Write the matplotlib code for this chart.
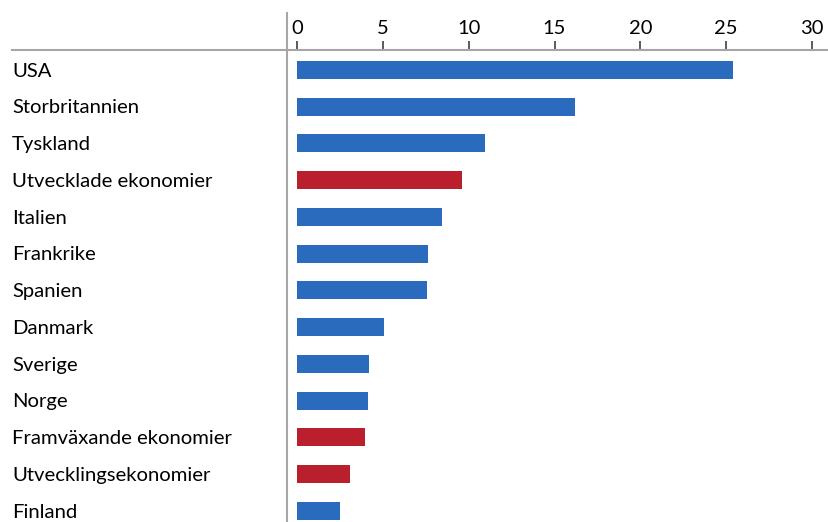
import matplotlib.pyplot as plt
from matplotlib.lines import Line2D
from matplotlib.transforms import blended_transform_factory

plt.rcParams['font.family'] = ['Lato', 'DejaVu Sans']

# data
lander = ["USA", "Storbritannien", "Tyskland", "Utvecklade ekonomier", "Italien",
          "Frankrike", "Spanien", "Danmark", "Sverige", "Norge",
          "Framväxande ekonomier", "Utvecklingsekonomier", "Finland"]
varden = [25.4, 16.2, 10.95, 9.6, 8.45, 7.63, 7.57, 5.07, 4.19, 4.13, 3.96, 3.09, 2.5]
grupp = [False, False, False, True, False, False, False, False, False, False, True, True, False]
xticks = [0, 5, 10, 15, 20, 25, 30]

BLA = '#2A6BBD'
ROD = '#BA1F2E'
GRA = '#A6A6A6'

W, H = 829, 522
fig = plt.figure(figsize=(W / 100, H / 100), dpi=100)
# axes: left at x=287px, right at 829, top at y=50, bottom at image edge
ax = fig.add_axes([287 / W, 0, (829 - 287) / W, (522 - 50) / H])

pos = list(range(len(lander)))
farger = [ROD if g else BLA for g in grupp]
ax.barh(pos, varden, height=0.49, color=farger, edgecolor='none')

ax.set_ylim(12.3, -0.544)
px = 30 / (812 - 297)
ax.set_xlim(-(297 - 287) * px, 30 + (829 - 812) * px)

ax.xaxis.tick_top()
ax.set_xticks(xticks)
ax.set_xticklabels([str(t) for t in xticks])
ax.tick_params(axis='x', direction='out', length=6.5, width=1.2, color='#404040',
               labelsize=14.5, pad=2.5, labelcolor='black')
ax.set_yticks([])
for s in ax.spines.values():
    s.set_visible(False)

# labels left aligned at figure x=12px
tr = blended_transform_factory(fig.transFigure, ax.transData)
for i, namn in enumerate(lander):
    ax.text(12 / W, i + 0.03, namn, transform=tr, ha='left', va='center',
            fontsize=14.6, color='black')

# grey frame lines
fig.add_artist(Line2D([12 / W, 1], [1 - 50 / H, 1 - 50 / H], color=GRA, lw=1.5))
fig.add_artist(Line2D([287 / W, 287 / W], [0, 1 - 13 / H], color=GRA, lw=1.5))

fig.savefig('out.png', dpi=100)
